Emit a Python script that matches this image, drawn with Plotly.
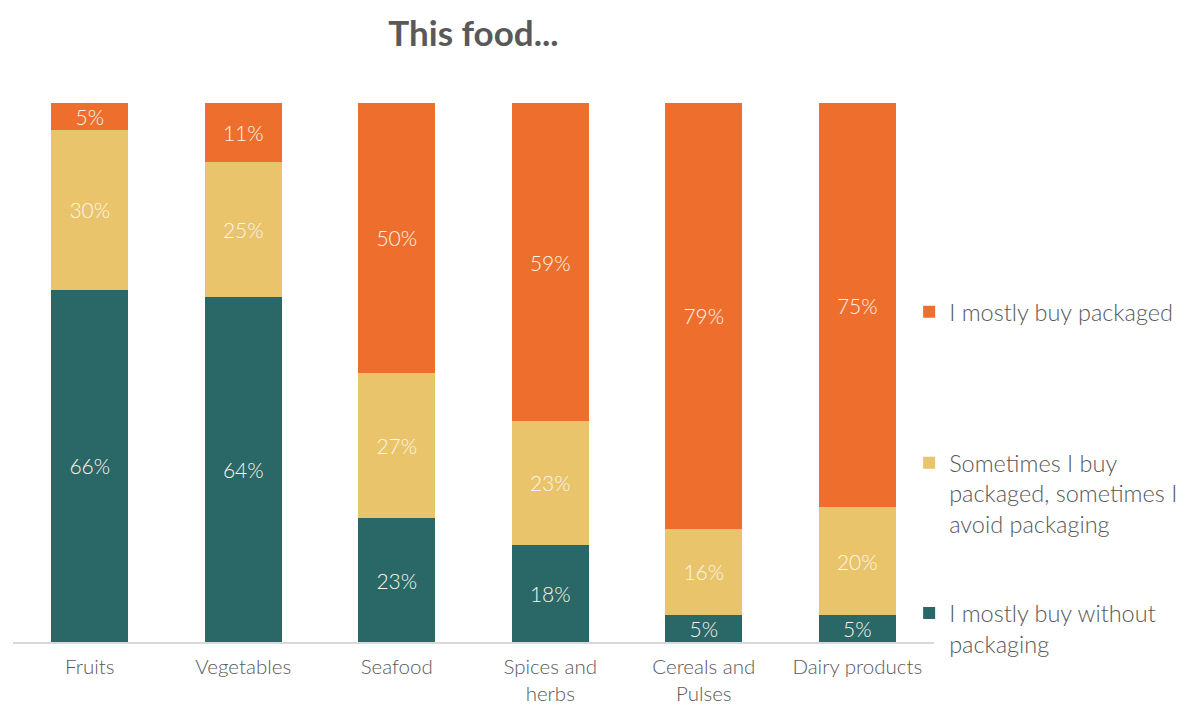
import plotly.graph_objects as go

# Survey results: share of respondents per food category
categories = ["Fruits", "Vegetables", "Seafood", "Spices and<br>herbs",
              "Cereals and<br>Pulses", "Dairy products"]
without_packaging = [66, 64, 23, 18, 5, 5]
sometimes_packaged = [30, 25, 27, 23, 16, 20]
mostly_packaged = [5, 11, 50, 59, 79, 75]

series_names = ["I mostly buy without<br>packaging",
                "Sometimes I buy<br>packaged, sometimes I<br>avoid packaging",
                "I mostly buy packaged"]

TEAL = "#2A6767"
SAND = "#E9C46A"
ORANGE = "#EE6F2D"
GREY = "#595959"
FONT = "Lato"

series = [
    (without_packaging, series_names[0], TEAL, "legend3"),
    (sometimes_packaged, series_names[1], SAND, "legend2"),
    (mostly_packaged, series_names[2], ORANGE, "legend"),
]

fig = go.Figure()
for values, name, color, leg in series:
    fig.add_trace(go.Bar(
        x=categories,
        y=values,
        name=name,
        legend=leg,
        showlegend=True,
        marker=dict(color=color, line=dict(width=0)),
        text=[f"{v}%" for v in values],
        textposition="inside",
        insidetextanchor="middle",
        textangle=0,
        constraintext="none",
        textfont=dict(family=FONT, size=21, color="#FBF6EA", weight=300),
        hoverinfo="skip",
    ))

legend_common = dict(
    x=0.973, xanchor="left", yanchor="top",
    bgcolor="rgba(0,0,0,0)",
    font=dict(family=FONT, size=23.5, color=GREY, weight=300),
    itemwidth=30,
    valign="top",
)

fig.update_layout(
    showlegend=True,
    barmode="stack",
    barnorm="percent",
    bargap=0.5,
    width=1191,
    height=707,
    margin=dict(l=13, r=257, t=103, b=65, autoexpand=False),
    plot_bgcolor="white",
    paper_bgcolor="white",
    title=dict(
        text="<b>This food...</b>",
        x=0.5, xref="paper", xanchor="center",
        y=0.952, yref="container", yanchor="middle",
        font=dict(family=FONT, size=35, color=GREY, weight=900),
    ),
    xaxis=dict(
        showline=True, linecolor="#D9D9D9", linewidth=1.5,
        ticks="", showgrid=False, ticklabelstandoff=6,
        tickfont=dict(family=FONT, size=20.5, color=GREY, weight=300),
    ),
    yaxis=dict(range=[0, 100], visible=False, showgrid=False),
    legend=dict(y=0.653, **legend_common),
    legend2=dict(y=0.373, **legend_common),
    legend3=dict(y=0.094, **legend_common),
)

fig.write_html("out.html")
